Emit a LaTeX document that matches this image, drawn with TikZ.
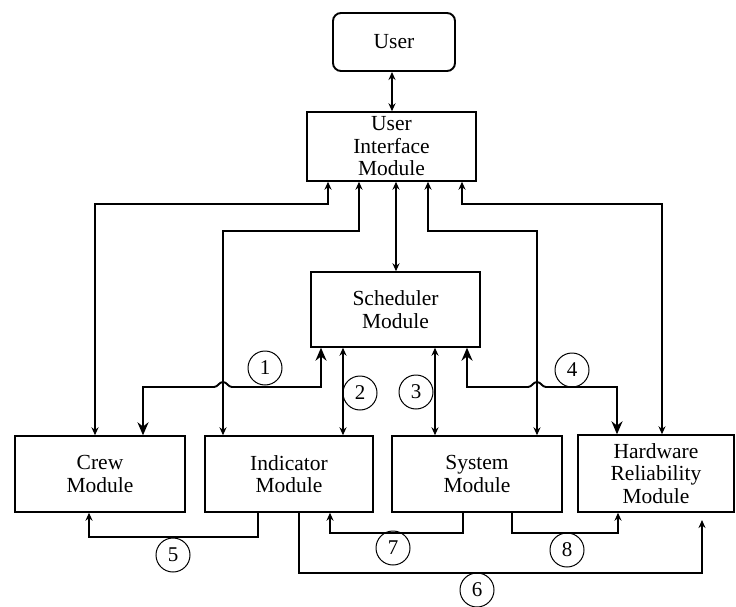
\documentclass[tikz,border=0pt]{standalone}
\usepackage{fontspec}
\setmainfont{Liberation Serif}
\usetikzlibrary{arrows.meta}
\begin{document}
\begin{tikzpicture}[x=1pt,y=-1pt,
  box/.style={draw,line width=1.4pt,align=center,inner sep=0pt,
    font=\fontsize{21.5}{22.5}\selectfont},
  num/.style={draw,circle,line width=1pt,minimum size=34pt,inner sep=0pt,
    font=\fontsize{21}{23}\selectfont},
  link/.style={line width=1.4pt,>={Stealth[length=8pt,width=7pt]}},
  biglink/.style={line width=1.9pt,>={Stealth[length=13pt,width=11pt]}}]
\useasboundingbox (0,0) rectangle (736,607);
\node[box,rounded corners=8pt,line width=1.9pt,minimum width=122pt,minimum height=58pt] (user) at (394,42) {User};
\node[box,minimum width=169pt,minimum height=69pt] (ui) at (391.5,146.5) {User\\Interface\\Module};
\node[box,minimum width=169pt,minimum height=75pt] (sched) at (395.5,309.5) {Scheduler\\Module};
\node[box,minimum width=170pt,minimum height=76pt] (crew) at (100,474) {Crew\\Module};
\node[box,minimum width=168pt,minimum height=76pt] (ind) at (289,474) {Indicator\\Module};
\node[box,minimum width=170pt,minimum height=76pt] (sys) at (477,474) {System\\Module};
\node[box,minimum width=156pt,minimum height=77pt] (hw) at (656,473.5) {Hardware\\Reliability\\Module};
\coordinate (hwin) at (702,520);
% numbered links
\node[num] (1) at (265,368) {1};
\node[num] (2) at (360,393) {2};
\node[num] (3) at (416,392) {3};
\node[num] (4) at (572,370) {4};
\node[num] (5) at (173,555) {5};
\node[num] (6) at (477,590) {6};
\node[num] (7) at (393,548) {7};
\node[num] (8) at (567,550) {8};
% user interface links
\draw[link,<->] (user.south -| 392,0) -- (ui.north -| 392,0);
\draw[link,<->] (ui.south -| 328,0) |- (95,204) -- (crew.north -| 95,0);
\draw[link,<->] (ui.south -| 359,0) |- (223,231) -- (ind.north -| 223,0);
\draw[link,<->] (ui.south -| 396,0) -- (sched.north -| 396,0);
\draw[link,<->] (ui.south -| 428,0) |- (537,231) -- (sys.north -| 537,0);
\draw[link,<->] (ui.south -| 462,0) |- (662,204) -- (hw.north -| 662,0);
% scheduler links
\draw[biglink,<->] (sched.south -| 321,0) |- (232,387)
  .. controls (228,387) and (227,382) .. (223,382)
  .. controls (219,382) and (218,387) .. (214,387) -| (crew.north -| 143,0);
\draw[link,<->] (sched.south -| 343,0) -- (ind.north -| 343,0);
\draw[link,<->] (sched.south -| 435,0) -- (sys.north -| 435,0);
\draw[biglink,<->] (sched.south -| 467,0) |- (528,387)
  .. controls (532,387) and (533,382) .. (537,382)
  .. controls (541,382) and (542,387) .. (546,387) -| (hw.north -| 617,0);
% lower links
\draw[link,->] (ind.south -| 258,0) |- (89,537) -- (crew.south -| 89,0);
\draw[link,->] (ind.south -| 299,0) |- (702,573) -- (hwin);
\draw[link,->] (sys.south -| 463,0) |- (330,533) -- (ind.south -| 330,0);
\draw[link,->] (sys.south -| 512,0) |- (618,533) -- (hw.south -| 618,0);
\end{tikzpicture}
\end{document}
